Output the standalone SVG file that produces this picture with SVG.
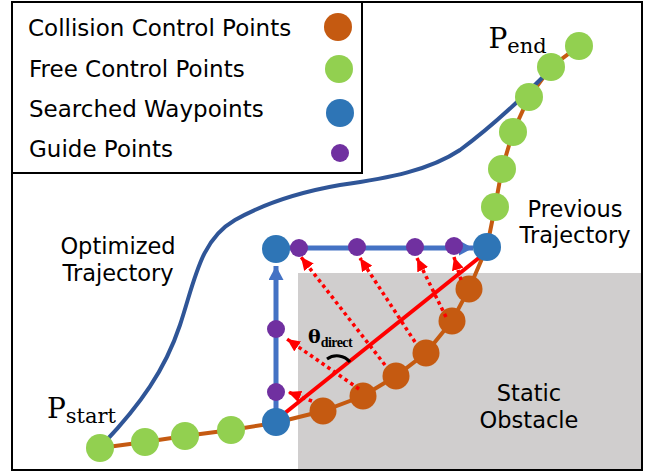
<svg xmlns="http://www.w3.org/2000/svg" width="657" height="474" viewBox="0 0 657 474">
<style>
.lbl{font-family:"DejaVu Sans","Verdana",sans-serif;fill:#000}
.math{font-family:"DejaVu Serif","Liberation Serif",serif;fill:#000}
.col{fill:#C55A11}
.free{fill:#92D050}
.way{fill:#2E75B6}
.guide{fill:#7030A0}
.dot{stroke:#FF0000;stroke-width:3.5;stroke-dasharray:3.5 3.5;fill:none}
.blue{stroke:#4472C4;stroke-width:5;fill:none}
</style>
<defs>
<marker id="ra" viewBox="0 0 13 12" refX="13" refY="6" markerWidth="13" markerHeight="12" markerUnits="userSpaceOnUse" orient="auto">
<path d="M0,0 L13,6 L0,12 z" fill="#FF0000"/>
</marker>
<marker id="ba" viewBox="0 0 14 15" refX="14" refY="7.5" markerWidth="14" markerHeight="15" markerUnits="userSpaceOnUse" orient="auto">
<path d="M0,0 L14,7.5 L0,15 z" fill="#4472C4"/>
</marker>
</defs>
<rect id="obstacle" x="298" y="273" width="344" height="197" fill="#D0CECE"/>
<rect id="frame" x="12" y="2" width="630" height="468" fill="none" stroke="#000" stroke-width="2"/>
<g id="legend">
<rect x="12" y="2" width="350" height="171" fill="#fff" stroke="#000" stroke-width="2"/>
<text class="lbl" x="28" y="36" font-size="23">Collision Control Points</text>
<text class="lbl" x="29" y="77" font-size="23">Free Control Points</text>
<text class="lbl" x="29" y="117" font-size="23">Searched Waypoints</text>
<text class="lbl" x="29" y="157" font-size="23">Guide Points</text>
<circle class="col" cx="338" cy="27" r="14"/>
<circle class="free" cx="339" cy="69" r="14"/>
<circle class="way" cx="340" cy="113" r="14"/>
<circle class="guide" cx="340" cy="153" r="9"/>
</g>
<g id="connectors">
<polyline id="previous-trajectory" points="100,448 145,442 185,436 231,430 275,423 323,411 363,396 396,376 426,353 452,321 469,289 487,247 495,207 502,169 513,132 529,97 551,67 579,46" fill="none" stroke="#C55A11" stroke-width="4"/>
<path id="optimized-trajectory" d="M104,443 C140,405 165,370 180,325 C195,280 200,240 235,220 C265,203 300,192 340,185 C390,178 430,170 460,150 C490,128 520,100 545,75 L560,60" fill="none" stroke="#2F5597" stroke-width="4"/>
<line class="blue" x1="276" y1="422" x2="276" y2="266" marker-end="url(#ba)"/>
<line class="blue" x1="276" y1="248" x2="473" y2="248" marker-end="url(#ba)"/>
</g>
<g id="collision-points">
<circle class="col" cx="323" cy="411" r="13.5"/>
<circle class="col" cx="363" cy="396" r="13.5"/>
<circle class="col" cx="396" cy="376" r="13.5"/>
<circle class="col" cx="426" cy="353" r="13.5"/>
<circle class="col" cx="452" cy="321" r="13.5"/>
<circle class="col" cx="469" cy="289" r="13.5"/>
</g>
<g id="free-points">
<circle class="free" cx="100" cy="448" r="14"/>
<circle class="free" cx="145" cy="442" r="14"/>
<circle class="free" cx="185" cy="436" r="14"/>
<circle class="free" cx="231" cy="430" r="14"/>
<circle class="free" cx="495" cy="207" r="14"/>
<circle class="free" cx="502" cy="169" r="14"/>
<circle class="free" cx="513" cy="132" r="14"/>
<circle class="free" cx="529" cy="97" r="14"/>
<circle class="free" cx="551" cy="67" r="14"/>
<circle class="free" cx="579" cy="46" r="14"/>
</g>
<g id="guide-arrows">
<line class="dot" x1="312" y1="401" x2="288" y2="392" marker-end="url(#ra)"/>
<line class="dot" x1="359" y1="389" x2="287" y2="339" marker-end="url(#ra)"/>
<line class="dot" x1="385" y1="365" x2="301" y2="257" marker-end="url(#ra)"/>
<line class="dot" x1="415" y1="342" x2="360" y2="258" marker-end="url(#ra)"/>
<line class="dot" x1="446" y1="317" x2="417" y2="258" marker-end="url(#ra)"/>
<line class="dot" x1="461" y1="280" x2="454" y2="257" marker-end="url(#ra)"/>
</g>
<line id="direct-line" x1="285" y1="413" x2="480" y2="257" stroke="#FF0000" stroke-width="4"/>
<path id="theta-arc" d="M327,359 A17,17 0 0,1 350,362" fill="none" stroke="#000" stroke-width="3"/>
<g id="waypoints">
<circle class="way" cx="276" cy="422" r="14"/>
<circle class="way" cx="276" cy="249" r="14"/>
<circle class="way" cx="487" cy="247" r="14"/>
</g>
<g id="guide-points">
<circle class="guide" cx="299" cy="248" r="9"/>
<circle class="guide" cx="357" cy="247" r="9"/>
<circle class="guide" cx="415" cy="247" r="9"/>
<circle class="guide" cx="454" cy="246" r="9"/>
<circle class="guide" cx="276" cy="329" r="9"/>
<circle class="guide" cx="276" cy="392" r="9"/>
</g>
<g id="labels">
<text class="lbl" x="118" y="254" font-size="22.5" text-anchor="middle">Optimized</text>
<text class="lbl" x="118" y="281" font-size="22.5" text-anchor="middle">Trajectory</text>
<text class="lbl" x="575" y="217" font-size="22.5" text-anchor="middle">Previous</text>
<text class="lbl" x="575" y="243" font-size="22.5" text-anchor="middle">Trajectory</text>
<text class="lbl" x="529" y="401" font-size="22.5" text-anchor="middle">Static</text>
<text class="lbl" x="529" y="428" font-size="22.5" text-anchor="middle">Obstacle</text>
<text class="math" x="47" y="418" font-size="28">P<tspan dy="5" font-size="21">start</tspan></text>
<text class="math" x="488.5" y="48" font-size="28">P<tspan dy="5" font-size="21">end</tspan></text>
<text class="math" x="308" y="343" font-size="19" font-weight="bold">θ<tspan dy="4" font-family="Liberation Serif, serif" font-size="14" textLength="32">direct</tspan></text>
</g>
</svg>
